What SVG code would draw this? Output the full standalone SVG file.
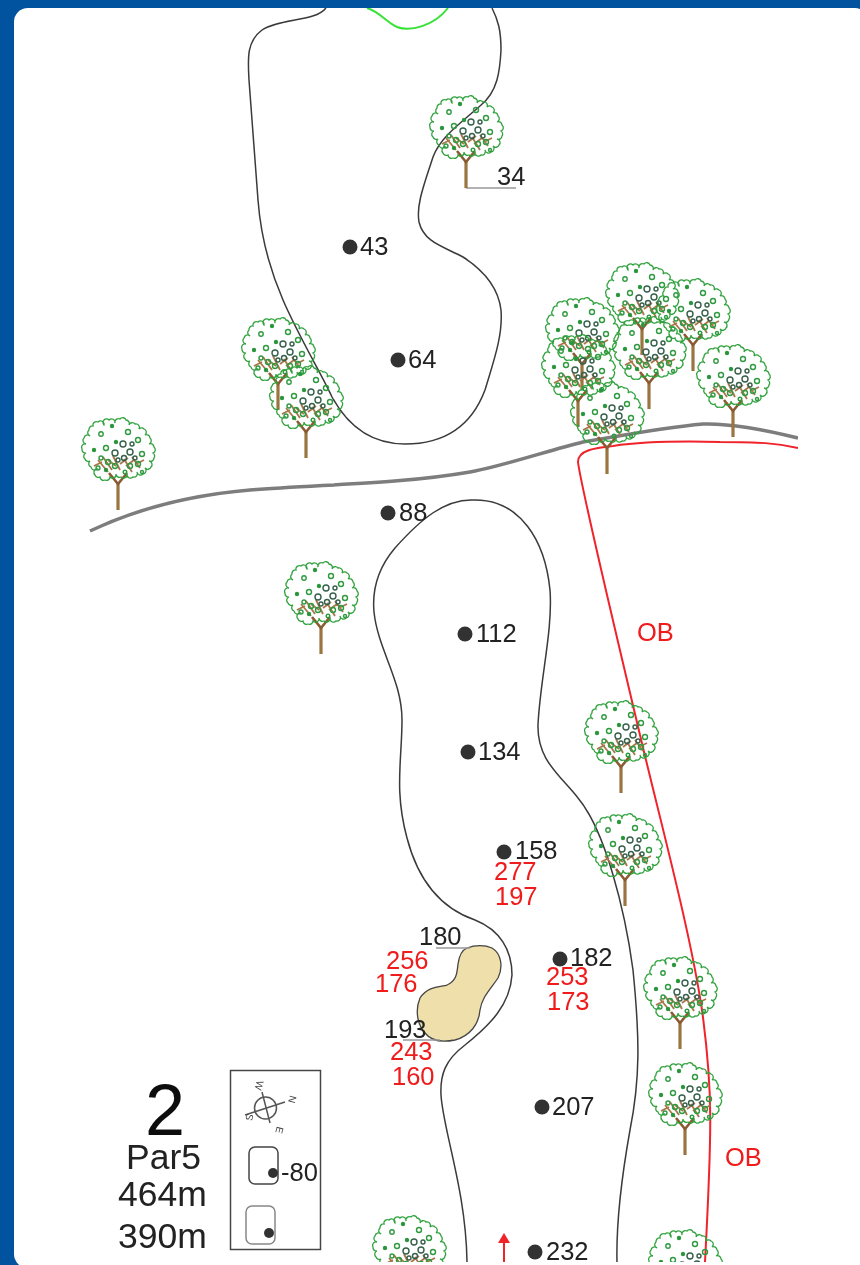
<svg xmlns="http://www.w3.org/2000/svg" xmlns:xlink="http://www.w3.org/1999/xlink" width="860" height="1265" viewBox="0 0 860 1265">
<style>
text{font-family:"Liberation Sans",Arial,sans-serif;font-size:25.5px;fill:#222}
.r{fill:#f01a1a}
.fw{fill:none;stroke:#3a3a3a;stroke-width:1.5}
.dot{fill:#333}
.ln{fill:none;stroke:#999;stroke-width:1.5}
.big{font-size:35.5px}
.lg{fill:none;stroke:#555;stroke-width:1.5}
.cm{font-size:10px;fill:#444}
</style>
<defs>
<clipPath id="page"><rect x="0" y="0" width="860" height="1262"/></clipPath>
<filter id="soft" x="0" y="0" width="100%" height="100%"><feGaussianBlur stdDeviation="0.65"/></filter>
<g id="tree">
<path d="M0-28V0" fill="none" stroke="#9a7440" stroke-width="3.2"/>
<path d="M-9-37L0-26L9-37" fill="none" stroke="#8a5a30" stroke-width="2.6"/>
<path d="M-20-50L-10-38M-15-53L-6-40M-5-54L2-40M6-51L14-38M14-53L22-42M-24-44L-16-48M2-46L10-52M18-46L26-50M-10-50L-2-44M8-44L16-50" fill="none" stroke="#a8764a" stroke-width="1.8"/>
<path d="M-25-84A3.500 3.500 0 0 1-20-88A3.500 3.500 0 0 1-14-85A3.500 3.500 0 0 1-9-90A3.500 3.500 0 0 1-3-87A3.500 3.500 0 0 1 2-91A3.500 3.500 0 0 1 8-90A3.500 3.500 0 0 1 11-85A3.500 3.500 0 0 1 17-86A3.500 3.500 0 0 1 21-81A3.500 3.500 0 0 1 26-81A3.500 3.500 0 0 1 27-75A3.500 3.500 0 0 1 32-72A3.500 3.500 0 0 1 31-66A3.500 3.500 0 0 1 36-63A3.500 3.500 0 0 1 35-57A3.500 3.500 0 0 1 36-52A3.500 3.500 0 0 1 31-49A3.500 3.500 0 0 1 33-43A3.500 3.500 0 0 1 27-42A3.500 3.500 0 0 1 25-36A3.500 3.500 0 0 1 19-38A3.500 3.500 0 0 1 15-33A3.500 3.500 0 0 1 9-36A3.500 3.500 0 0 1 3-33A3.500 3.500 0 0 1-2-36A3.500 3.500 0 0 1-8-33A3.500 3.500 0 0 1-13-30A3.500 3.500 0 0 1-18-33A3.500 3.500 0 0 1-23-35A3.500 3.500 0 0 1-21-41A3.500 3.500 0 0 1-27-43A3.500 3.500 0 0 1-28-49A3.500 3.500 0 0 1-33-51A3.500 3.500 0 0 1-32-57A3.500 3.500 0 0 1-36-61A3.500 3.500 0 0 1-32-66A3.500 3.500 0 0 1-34-72A3.500 3.500 0 0 1-28-74A3.500 3.500 0 0 1-29-80A3.500 3.500 0 0 1-25-84Z" fill="none" stroke="#2fa23c" stroke-width="1.3"/>
<g fill="none" stroke="#2f9a40" stroke-width="1.4">
<circle cx="-17" cy="-76" r="2.200"/><circle cx="-6" cy="-84" r="1.500" fill="#2a8a38"/><circle cx="10" cy="-78" r="2.500"/><circle cx="-12" cy="-62" r="2.500"/><circle cx="-2" cy="-68" r="1.500" fill="#2a8a38"/><circle cx="20" cy="-70" r="2.500"/><circle cx="24" cy="-56" r="2.500"/><circle cx="-24" cy="-60" r="1.500" fill="#2a8a38"/><circle cx="5" cy="-66" r="3" stroke="#35604a"/><circle cx="12" cy="-58" r="3" stroke="#35604a"/><circle cx="-3" cy="-57" r="3" stroke="#35604a"/><circle cx="6" cy="-52" r="2.500" stroke="#35604a"/><circle cx="14" cy="-66" r="2" stroke="#35604a"/><circle cx="-10" cy="-48" r="2.500"/><circle cx="20" cy="-46" r="2.500"/><circle cx="-20" cy="-42" r="2"/><circle cx="-3" cy="-44" r="2.500"/><circle cx="12" cy="-44" r="2.500"/><circle cx="24" cy="-38" r="1.500"/><circle cx="-12" cy="-40" r="1.500" fill="#2a8a38"/><circle cx="0" cy="-50" r="2" stroke="#35604a"/><circle cx="17" cy="-52" r="2" stroke="#35604a"/><circle cx="-17" cy="-52" r="2"/><circle cx="7" cy="-38" r="1.800"/>
</g>
</g>
</defs>
<rect width="860" height="1265" fill="#0153a0"/>
<rect x="14" y="8" width="855" height="1260" rx="14" fill="#fff"/>
<g clip-path="url(#page)"><g filter="url(#soft)">
<g id="course">
<path id="green" d="M367 8C380 12 386 22 397 27C410 32 434 26 448 8" fill="none" stroke="#36e236" stroke-width="2"/>
<path id="fairway-upper" class="fw" d="M326 8C315 22 280 18 262 30C246 42 248 60 249 80C251 110 254 150 258 200C261 240 270 270 283 300C298 335 322 375 332 397C350 430 375 444 405 444C440 444 470 430 485 390C494 360 503 335 501 310C498 285 480 268 463 257C445 247 424 243 419 222C416 205 424 185 433 157C440 138 458 125 480 106C498 92 500 70 501 50C501 30 498 20 492 8"/>
<path id="fairway-lower" class="fw" d="M475 500C445 498 420 520 395 548C378 568 372 590 374 612C378 650 402 680 402 720C402 760 394 790 407 838C418 880 440 908 475 920C500 930 512 950 512 975C510 1005 490 1025 465 1045C445 1060 440 1075 441 1095C443 1130 466 1190 467 1262"/>
<path id="fairway-lower-right" class="fw" d="M475 500C520 500 545 540 550 590C553 630 540 680 538 725C537 760 560 775 578 798C605 830 625 910 633 970C640 1040 640 1080 630 1130C622 1175 616 1220 617 1262"/>
<path id="road" d="M90 531C130 512 180 496 250 490C330 484 400 484 470 472C500 467 550 450 583 442C620 436 660 428 703 424C735 423 770 431 798 438" fill="none" stroke="#7d7d7d" stroke-width="3.5"/>
<path id="ob" d="M798 448C775 443 760 442 720 442C680 441 640 442 613 446C595 448 578 450 578 462C581 488 620 650 640 735C660 820 690 930 702 1010C713 1090 712 1130 705 1262" fill="none" stroke="#f0222a" stroke-width="2"/>
<path id="bunker" d="M467 948C475 945 485 945 492 948C502 954 503 968 498 978C490 990 482 997 480 1010C479 1024 470 1036 455 1040C445 1042 432 1042 425 1033C417 1024 415 1010 420 998C428 986 440 987 447 985C457 981 457 972 458 964C459 957 462 950 467 948Z" fill="#efdfaa" stroke="#444" stroke-width="1.300"/>
<path class="ln" d="M466 188H516M436 948H470M403 1040H440"/>
<path id="tee-arrow" d="M504 1262V1242" fill="none" stroke="#f0222a" stroke-width="2"/>
<path d="M504 1233L510 1243H498Z" fill="#f0222a"/>
</g>
<g id="trees">
<use xlink:href="#tree" href="#tree" x="466" y="188"/>
<use xlink:href="#tree" href="#tree" x="278" y="410"/>
<use xlink:href="#tree" href="#tree" x="306" y="458"/>
<use xlink:href="#tree" href="#tree" x="118" y="510"/>
<use xlink:href="#tree" href="#tree" x="642" y="355"/>
<use xlink:href="#tree" href="#tree" x="693" y="371"/>
<use xlink:href="#tree" href="#tree" x="649" y="409"/>
<use xlink:href="#tree" href="#tree" x="733" y="437"/>
<use xlink:href="#tree" href="#tree" x="582" y="390"/>
<use xlink:href="#tree" href="#tree" x="578" y="427"/>
<use xlink:href="#tree" href="#tree" x="607" y="474"/>
<use xlink:href="#tree" href="#tree" x="321" y="654"/>
<use xlink:href="#tree" href="#tree" x="621" y="793"/>
<use xlink:href="#tree" href="#tree" x="625" y="906"/>
<use xlink:href="#tree" href="#tree" x="680" y="1049"/>
<use xlink:href="#tree" href="#tree" x="685" y="1155"/>
<use xlink:href="#tree" href="#tree" x="409" y="1308"/>
<use xlink:href="#tree" href="#tree" x="685" y="1322"/>
</g>
<g id="markers">
<circle class="dot" cx="350" cy="247" r="7.500"/><circle class="dot" cx="398" cy="360" r="7.500"/><circle class="dot" cx="388" cy="513" r="7.500"/><circle class="dot" cx="465" cy="634" r="7.500"/><circle class="dot" cx="468" cy="752" r="7.500"/><circle class="dot" cx="504" cy="852" r="7.500"/><circle class="dot" cx="560" cy="959" r="7.500"/><circle class="dot" cx="542" cy="1107" r="7.500"/><circle class="dot" cx="535" cy="1252" r="7.500"/>
<text x="497" y="185">34</text><text x="360" y="255">43</text><text x="408" y="368">64</text><text x="399" y="521">88</text><text x="476" y="642">112</text><text x="478" y="760">134</text><text x="515" y="859">158</text><text x="419" y="945">180</text><text x="570" y="966">182</text><text x="384" y="1038">193</text><text x="552" y="1115">207</text><text x="546" y="1260">232</text>
<text class="r" x="494" y="880">277</text><text class="r" x="495" y="905">197</text><text class="r" x="386" y="969">256</text><text class="r" x="375" y="992">176</text><text class="r" x="546" y="985">253</text><text class="r" x="547" y="1010">173</text><text class="r" x="390" y="1060">243</text><text class="r" x="392" y="1085">160</text>
<text class="r" x="637" y="641">OB</text><text class="r" x="725" y="1166">OB</text>
</g>
<g id="info">
<text x="165" y="1135" text-anchor="middle" style="font-size:72px;fill:#111">2</text>
<text class="big" x="163.500" y="1169" text-anchor="middle">Par5</text>
<text class="big" x="162.500" y="1206" text-anchor="middle">464m</text>
<text class="big" x="162.500" y="1248" text-anchor="middle">390m</text>
</g>
<g id="legend">
<rect x="230.500" y="1070.500" width="90" height="179" fill="none" stroke="#444" stroke-width="1.500"/>
<circle class="lg" cx="265.500" cy="1108" r="11"/>
<path class="lg" d="M262 1092L270 1123M245 1115L285 1102"/>
<text class="cm" transform="translate(257 1080) rotate(105)">W</text>
<text class="cm" transform="translate(290 1095) rotate(105)">N</text>
<text class="cm" transform="translate(277 1126) rotate(105)">E</text>
<text class="cm" transform="translate(247 1113) rotate(105)">S</text>
<rect x="249" y="1147" width="29" height="37" rx="6" fill="none" stroke="#444" stroke-width="1.500"/>
<circle class="dot" cx="273" cy="1173" r="5"/>
<text x="281" y="1181">-80</text>
<rect x="246" y="1206" width="29" height="38" rx="6" fill="none" stroke="#888" stroke-width="1.500"/>
<circle class="dot" cx="269" cy="1233" r="5"/>
</g>
</g></g>
</svg>
